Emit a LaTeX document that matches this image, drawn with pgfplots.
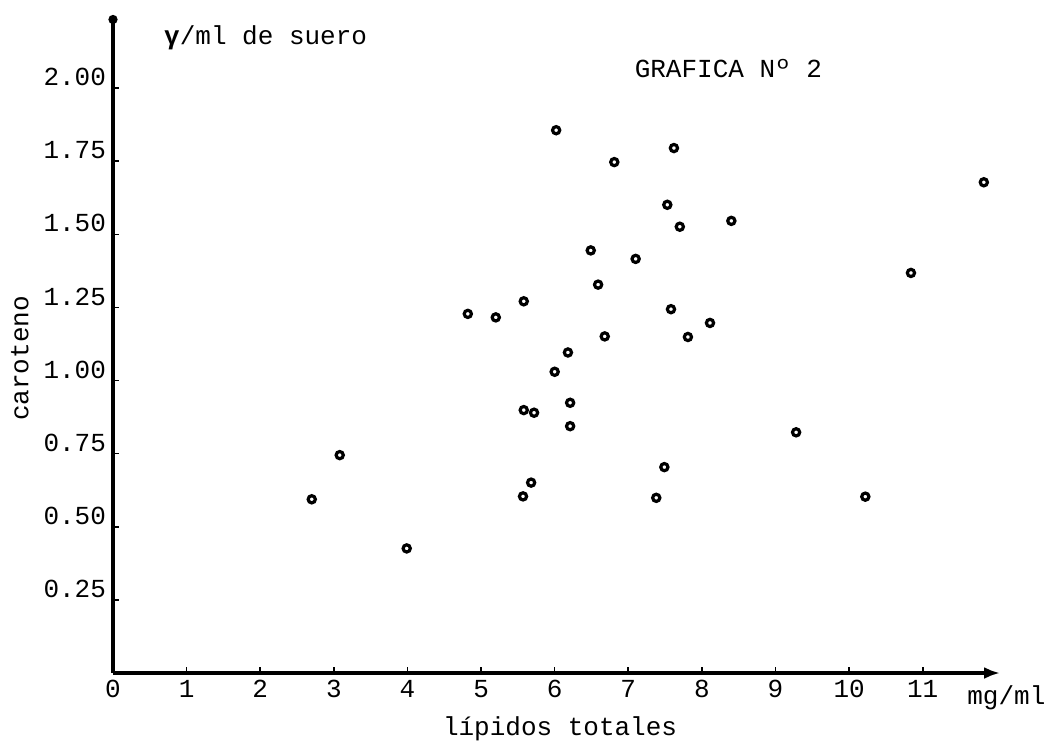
\documentclass[border=0pt]{standalone}
\usepackage{fontspec}
\setmainfont{Liberation Mono}
\usepackage{pgfplots}
\pgfplotsset{compat=1.18}
\usetikzlibrary{arrows.meta}

\newcommand{\tw}{\fontsize{13}{15}\selectfont}

\begin{document}
\begin{tikzpicture}
\begin{axis}[
    scale only axis,
    width=443.5pt, height=329pt,
    xmin=0, xmax=12.05,
    ymin=0, ymax=2.25,
    axis lines=left,
    axis line style={line width=1.8pt},
    x axis line style={-{Latex[length=8pt,width=6pt]}},
    y axis line style={-{Circle[length=4.5pt]}},
    tick align=inside,
    major tick length=3pt,
    tick style={line width=0.8pt, black},
    xtick={0,1,...,11},
    ytick={0.25,0.5,0.75,1,1.25,1.5,1.75,2},
    /pgf/number format/assume math mode=true,
    yticklabel style={/pgf/number format/fixed, /pgf/number format/fixed zerofill,
        /pgf/number format/precision=2, yshift=5.5pt, font=\tw},
    xticklabel style={font=\tw},
    xlabel={lípidos totales},
    xlabel style={at={(axis description cs:0.504,-0.084)}, anchor=center, font=\tw},
    ylabel={caroteno},
    ylabel style={at={(axis description cs:-0.105,0.478)}, anchor=center, font=\tw},
    clip=false,
]
\addplot[only marks, mark=o, mark size=1.8pt, mark options={line width=1.6pt, black}] coordinates {
    (2.70,0.594) (3.08,0.745) (3.99,0.426) (4.82,1.228) (5.20,1.216)
    (5.58,1.271) (5.58,0.899) (5.72,0.890) (5.57,0.604) (5.68,0.651)
    (6.02,1.856) (6.00,1.030) (6.18,1.096) (6.21,0.924) (6.21,0.844)
    (6.49,1.445) (6.59,1.328) (6.68,1.151) (6.81,1.747) (7.10,1.416)
    (7.62,1.795) (7.53,1.601) (7.70,1.526) (8.40,1.546) (7.58,1.244)
    (7.81,1.149) (8.11,1.197) (7.49,0.704) (7.38,0.599) (9.28,0.823)
    (10.22,0.603) (10.84,1.368) (11.83,1.678)
};
\node[anchor=west, font=\tw] at (axis cs:0.60,2.171) {\textbf{γ}/ml de suero};
\node[font=\tw] at (axis cs:8.36,2.068) {GRAFICA Nº 2};
\node[anchor=west, font=\tw] at (axis cs:11.51,-0.085) {mg/ml};
\coordinate (bl) at (axis description cs:-0.1274,-0.1142);
\coordinate (tr) at (axis description cs:1.0541,1.0228);
\end{axis}
\pgfresetboundingbox
\useasboundingbox (bl) rectangle (tr);
\end{tikzpicture}
\end{document}
